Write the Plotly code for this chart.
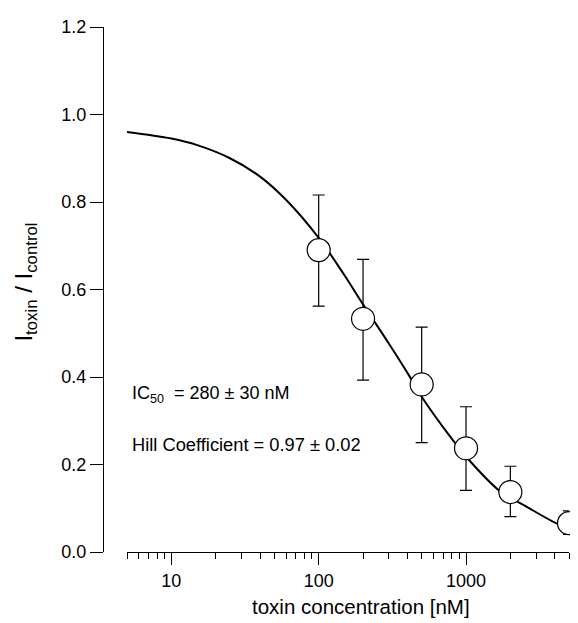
import plotly.graph_objects as go
import math

# Measured data points (toxin concentration in nM)
conc = [100, 200, 500, 1000, 2000, 5000]
ratio = [0.690, 0.533, 0.383, 0.237, 0.137, 0.066]
err_plus = [0.126, 0.136, 0.131, 0.095, 0.059, 0.028]
err_minus = [0.128, 0.140, 0.133, 0.096, 0.056, 0.026]

# Fitted curve
curve_x = [5, 10, 15, 25, 40, 60, 100, 150, 200, 300, 420, 500, 800, 1000, 1700, 2500, 4200, 5000]
curve_y = [0.960, 0.945, 0.930, 0.900, 0.858, 0.805, 0.718, 0.632, 0.566, 0.476, 0.398, 0.355,
           0.259, 0.218, 0.139, 0.106, 0.064, 0.056]

major_ticks = [10, 100, 1000]
major_labels = ["10", "100", "1000"]
minor_ticks = [5, 6, 7, 8, 9, 20, 30, 40, 50, 60, 70, 80, 90,
               200, 300, 400, 500, 600, 700, 800, 900, 2000, 3000, 4000, 5000]
y_ticks = [0.0, 0.2, 0.4, 0.6, 0.8, 1.0, 1.2]
y_labels = ["0.0", "0.2", "0.4", "0.6", "0.8", "1.0", "1.2"]

FONT = "Liberation Sans, Arial, Helvetica, sans-serif"
# The page body has an 8px default margin, so the figure is drawn 8px smaller
# and every screen position is offset by that margin.
OFF = 8
W, H = 578 - OFF, 623 - OFF
ML, MR, MT, MB = 103 - OFF, 9, 18 - OFF, 71
plot_w = W - ML - MR
plot_h = H - MT - MB
y0_fig = H - MB


def px_x(px):
    return (px - OFF - ML) / plot_w


def px_y(py):
    return (y0_fig - (py - OFF)) / plot_h


fig = go.Figure()
fig.add_trace(go.Scatter(
    x=curve_x, y=curve_y, mode="lines",
    line=dict(color="black", width=2, shape="spline", smoothing=1.0),
    hoverinfo="skip", showlegend=False,
))
fig.add_trace(go.Scatter(
    x=conc, y=ratio, mode="markers",
    marker=dict(size=23, color="white", line=dict(color="black", width=1.2)),
    error_y=dict(type="data", array=err_plus, arrayminus=err_minus,
                 color="black", thickness=1.2, width=6),
    cliponaxis=False, showlegend=False,
))

fig.update_layout(
    width=W, height=H,
    margin=dict(l=ML, r=MR, t=MT, b=MB),
    paper_bgcolor="white", plot_bgcolor="white",
    font=dict(family=FONT, color="black", size=18),
    xaxis=dict(
        type="log", range=[math.log10(5), math.log10(5000)],
        domain=[24 / plot_w, 1],
        tickmode="array", tickvals=major_ticks, ticktext=major_labels,
        ticks="outside", ticklen=12, tickwidth=1.2, tickcolor="black",
        minor=dict(tickmode="array", tickvals=minor_ticks, ticks="outside",
                   ticklen=6, tickwidth=1.2, tickcolor="black", showgrid=False),
        showline=True, linecolor="black", linewidth=1.2,
        showgrid=False, zeroline=False,
        tickfont=dict(size=18),
    ),
    yaxis=dict(
        range=[0, 1.2], anchor="free", position=0,
        tickmode="array", tickvals=y_ticks, ticktext=y_labels,
        ticks="outside", ticklen=13, tickwidth=1.2, tickcolor="black",
        showline=True, linecolor="black", linewidth=1.2,
        showgrid=False, zeroline=False,
        tickfont=dict(size=18),
    ),
    annotations=[
        dict(text="I<sub>toxin</sub> / I<sub>control</sub>", xref="paper", yref="paper",
             x=px_x(26), y=px_y(278), textangle=-90, showarrow=False,
             font=dict(size=24), xanchor="center", yanchor="middle"),
        dict(text="toxin concentration [nM]", xref="paper", yref="paper",
             x=px_x(361), y=px_y(607), showarrow=False,
             font=dict(size=20.5), xanchor="center", yanchor="middle"),
        dict(text="IC<sub>50</sub>  = 280 ± 30 nM", xref="paper", yref="paper",
             x=px_x(130), y=px_y(392), showarrow=False,
             font=dict(size=18), xanchor="left", yanchor="middle"),
        dict(text="Hill Coefficient = 0.97 ± 0.02", xref="paper", yref="paper",
             x=px_x(130), y=px_y(443), showarrow=False,
             font=dict(size=18.3), xanchor="left", yanchor="middle"),
    ],
)

fig.write_html("out.html")
